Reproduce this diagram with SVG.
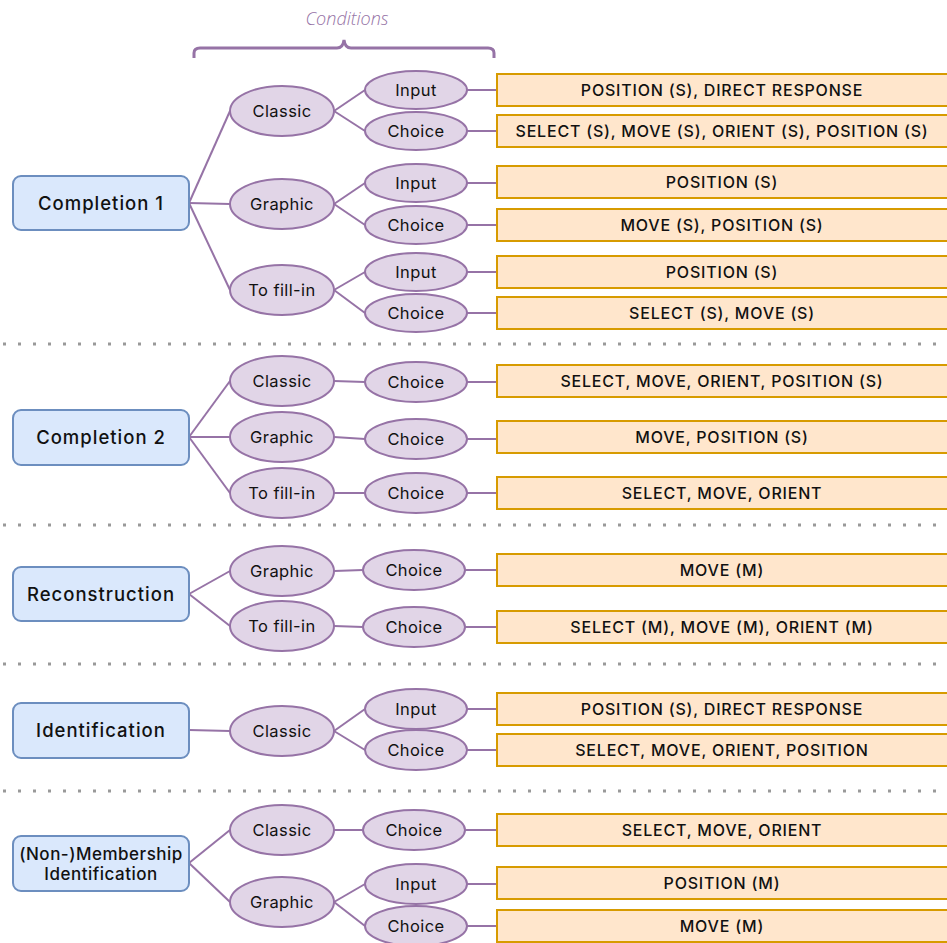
<svg xmlns="http://www.w3.org/2000/svg" width="947" height="943" viewBox="0 0 947 943">
<style>
text{font-family:Inter,"Open Sans","Liberation Sans",sans-serif;fill:#111;dominant-baseline:central;text-anchor:middle}
.root rect{fill:#dae8fc;stroke:#6c8ebf;stroke-width:2}
.root text{font-size:18.5px;font-weight:500;letter-spacing:1px}
.root text.small{font-size:17px;letter-spacing:0.5px}
.cat ellipse,.sub ellipse{fill:#e1d5e7;stroke:#9673a6;stroke-width:2}
.cat text,.sub text{font-size:16.5px;letter-spacing:0.4px}
.act rect{fill:#ffe6cc;stroke:#d79b00;stroke-width:2}
.act text{font-size:16px;font-weight:500;letter-spacing:0.8px}
#connectors path{fill:none;stroke:#9673a6;stroke-width:2}
.sep{stroke:#999;stroke-width:3;stroke-dasharray:3 12}
.cond{font-family:"Open Sans","Liberation Sans",sans-serif;font-style:italic;font-weight:300;font-size:18px;fill:#9673a6}
</style>

<text class="cond" x="347" y="18">Conditions</text>
<path d="M194,58 V53 Q194,48 200,48 H337 Q343,48 344,40 Q345,48 351,48 H488 Q494,48 494,53 V58" fill="none" stroke="#9673a6" stroke-width="3"/>

<g id="separators">
<line class="sep" x1="3" y1="344" x2="947" y2="344"/>
<line class="sep" x1="3" y1="525" x2="947" y2="525"/>
<line class="sep" x1="3" y1="664" x2="947" y2="664"/>
<line class="sep" x1="3" y1="791" x2="947" y2="791"/>
</g>

<g id="connectors">
<path d="M189,203 L230,111"/><path d="M189,203 L230,204"/><path d="M189,203 L230,290"/>
<path d="M334,111 L365,90"/><path d="M334,111 L365,131"/>
<path d="M334,204 L365,183"/><path d="M334,204 L365,225"/>
<path d="M334,290 L365,272"/><path d="M334,290 L365,313"/>
<path d="M467,90 H497"/><path d="M467,131 H497"/><path d="M467,183 H497"/><path d="M467,225 H497"/><path d="M467,272 H497"/><path d="M467,313 H497"/>
<path d="M189,437 L230,381"/><path d="M189,437 L230,437"/><path d="M189,437 L230,493"/>
<path d="M334,381 L365,382"/><path d="M334,437 L365,439"/><path d="M334,493 L365,493"/>
<path d="M467,382 H497"/><path d="M467,439 H497"/><path d="M467,493 H497"/>
<path d="M189,594 L230,571"/><path d="M189,594 L230,626"/>
<path d="M334,571 L363,570"/><path d="M334,626 L363,627"/>
<path d="M465,570 H497"/><path d="M465,627 H497"/>
<path d="M189,730 L230,731"/>
<path d="M334,731 L365,709"/><path d="M334,731 L365,750"/>
<path d="M467,709 H497"/><path d="M467,750 H497"/>
<path d="M189,863 L230,830"/><path d="M189,863 L230,902"/>
<path d="M334,830 L363,830"/><path d="M334,902 L365,884"/><path d="M334,902 L365,926"/>
<path d="M465,830 H497"/><path d="M467,884 H497"/><path d="M467,926 H497"/>
</g>

<g id="completion1" class="root"><rect x="13" y="176" width="176" height="54" rx="8"/><text x="101" y="203">Completion 1</text></g>
<g id="completion2" class="root"><rect x="13" y="410" width="176" height="55" rx="8"/><text x="101" y="437">Completion 2</text></g>
<g id="reconstruction" class="root"><rect x="13" y="567" width="176" height="54" rx="8"/><text x="101" y="594">Reconstruction</text></g>
<g id="identification" class="root"><rect x="13" y="703" width="176" height="55" rx="8"/><text x="101" y="730">Identification</text></g>
<g id="membership" class="root"><rect x="13" y="836" width="176" height="55" rx="8"/><text class="small" x="101" y="854">(Non-)Membership</text><text class="small" x="101" y="874">Identification</text></g>

<g id="c1-classic" class="cat"><ellipse cx="282" cy="111" rx="52" ry="25"/><text x="282" y="111">Classic</text></g>
<g id="c1-graphic" class="cat"><ellipse cx="282" cy="204" rx="52" ry="25"/><text x="282" y="204">Graphic</text></g>
<g id="c1-fill" class="cat"><ellipse cx="282" cy="290" rx="52" ry="25"/><text x="282" y="290">To fill-in</text></g>
<g id="c2-classic" class="cat"><ellipse cx="282" cy="381" rx="52" ry="25"/><text x="282" y="381">Classic</text></g>
<g id="c2-graphic" class="cat"><ellipse cx="282" cy="437" rx="52" ry="25"/><text x="282" y="437">Graphic</text></g>
<g id="c2-fill" class="cat"><ellipse cx="282" cy="493" rx="52" ry="25"/><text x="282" y="493">To fill-in</text></g>
<g id="r-graphic" class="cat"><ellipse cx="282" cy="571" rx="52" ry="25"/><text x="282" y="571">Graphic</text></g>
<g id="r-fill" class="cat"><ellipse cx="282" cy="626" rx="52" ry="25"/><text x="282" y="626">To fill-in</text></g>
<g id="i-classic" class="cat"><ellipse cx="282" cy="731" rx="52" ry="25"/><text x="282" y="731">Classic</text></g>
<g id="m-classic" class="cat"><ellipse cx="282" cy="830" rx="52" ry="25"/><text x="282" y="830">Classic</text></g>
<g id="m-graphic" class="cat"><ellipse cx="282" cy="902" rx="52" ry="25"/><text x="282" y="902">Graphic</text></g>

<g id="c1-classic-input" class="sub"><ellipse cx="416" cy="90" rx="51" ry="19"/><text x="416" y="90">Input</text></g>
<g id="c1-classic-choice" class="sub"><ellipse cx="416" cy="131" rx="51" ry="19"/><text x="416" y="131">Choice</text></g>
<g id="c1-graphic-input" class="sub"><ellipse cx="416" cy="183" rx="51" ry="19"/><text x="416" y="183">Input</text></g>
<g id="c1-graphic-choice" class="sub"><ellipse cx="416" cy="225" rx="51" ry="19"/><text x="416" y="225">Choice</text></g>
<g id="c1-fill-input" class="sub"><ellipse cx="416" cy="272" rx="51" ry="19"/><text x="416" y="272">Input</text></g>
<g id="c1-fill-choice" class="sub"><ellipse cx="416" cy="313" rx="51" ry="19"/><text x="416" y="313">Choice</text></g>
<g id="c2-classic-choice" class="sub"><ellipse cx="416" cy="382" rx="51" ry="20"/><text x="416" y="382">Choice</text></g>
<g id="c2-graphic-choice" class="sub"><ellipse cx="416" cy="439" rx="51" ry="20"/><text x="416" y="439">Choice</text></g>
<g id="c2-fill-choice" class="sub"><ellipse cx="416" cy="493" rx="51" ry="20"/><text x="416" y="493">Choice</text></g>
<g id="r-graphic-choice" class="sub"><ellipse cx="414" cy="570" rx="51" ry="20"/><text x="414" y="570">Choice</text></g>
<g id="r-fill-choice" class="sub"><ellipse cx="414" cy="627" rx="51" ry="20"/><text x="414" y="627">Choice</text></g>
<g id="i-classic-input" class="sub"><ellipse cx="416" cy="709" rx="51" ry="20"/><text x="416" y="709">Input</text></g>
<g id="i-classic-choice" class="sub"><ellipse cx="416" cy="750" rx="51" ry="20"/><text x="416" y="750">Choice</text></g>
<g id="m-classic-choice" class="sub"><ellipse cx="414" cy="830" rx="51" ry="20"/><text x="414" y="830">Choice</text></g>
<g id="m-graphic-input" class="sub"><ellipse cx="416" cy="884" rx="51" ry="20"/><text x="416" y="884">Input</text></g>
<g id="m-graphic-choice" class="sub"><ellipse cx="416" cy="926" rx="51" ry="20"/><text x="416" y="926">Choice</text></g>

<g id="a1" class="act"><rect x="497" y="74" width="452" height="32"/><text x="722" y="90">POSITION (S), DIRECT RESPONSE</text></g>
<g id="a2" class="act"><rect x="497" y="115" width="452" height="32"/><text x="722" y="131">SELECT (S), MOVE (S), ORIENT (S), POSITION (S)</text></g>
<g id="a3" class="act"><rect x="497" y="166" width="452" height="32"/><text x="722" y="182">POSITION (S)</text></g>
<g id="a4" class="act"><rect x="497" y="209" width="452" height="32"/><text x="722" y="225">MOVE (S), POSITION (S)</text></g>
<g id="a5" class="act"><rect x="497" y="256" width="452" height="32"/><text x="722" y="272">POSITION (S)</text></g>
<g id="a6" class="act"><rect x="497" y="297" width="452" height="32"/><text x="722" y="313">SELECT (S), MOVE (S)</text></g>
<g id="a7" class="act"><rect x="497" y="365" width="452" height="32"/><text x="722" y="381">SELECT, MOVE, ORIENT, POSITION (S)</text></g>
<g id="a8" class="act"><rect x="497" y="421" width="452" height="32"/><text x="722" y="437">MOVE, POSITION (S)</text></g>
<g id="a9" class="act"><rect x="497" y="477" width="452" height="32"/><text x="722" y="493">SELECT, MOVE, ORIENT</text></g>
<g id="a10" class="act"><rect x="497" y="554" width="452" height="32"/><text x="722" y="570">MOVE (M)</text></g>
<g id="a11" class="act"><rect x="497" y="611" width="452" height="32"/><text x="722" y="627">SELECT (M), MOVE (M), ORIENT (M)</text></g>
<g id="a12" class="act"><rect x="497" y="693" width="452" height="32"/><text x="722" y="709">POSITION (S), DIRECT RESPONSE</text></g>
<g id="a13" class="act"><rect x="497" y="734" width="452" height="32"/><text x="722" y="750">SELECT, MOVE, ORIENT, POSITION</text></g>
<g id="a14" class="act"><rect x="497" y="814" width="452" height="32"/><text x="722" y="830">SELECT, MOVE, ORIENT</text></g>
<g id="a15" class="act"><rect x="497" y="867" width="452" height="32"/><text x="722" y="883">POSITION (M)</text></g>
<g id="a16" class="act"><rect x="497" y="910" width="452" height="32"/><text x="722" y="926">MOVE (M)</text></g>
</svg>
